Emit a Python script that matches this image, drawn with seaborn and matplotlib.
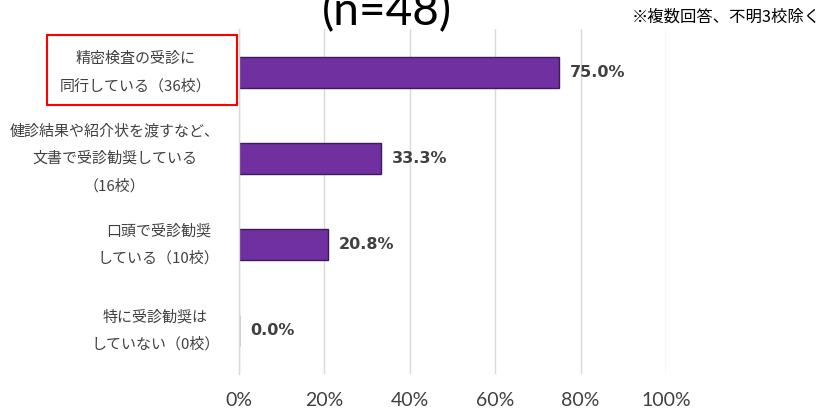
import matplotlib
matplotlib.use("Agg")
import matplotlib.pyplot as plt
import seaborn as sns
import pandas as pd
from matplotlib.patches import Rectangle
from matplotlib.transforms import ScaledTranslation

categories = [
    "精密検査の受診に\n同行している（36校）",
    "健診結果や紹介状を渡すなど、\n文書で受診勧奨している\n（16校）",
    "口頭で受診勧奨\nしている（10校）",
    "特に受診勧奨は\nしていない（0校）",
]
values = [75.0, 33.3, 20.8, 0.0]
value_labels = ["75.0%", "33.3%", "20.8%", "0.0%"]
xticks = [0, 20, 40, 60, 80, 100]
xtick_labels = ["0%", "20%", "40%", "60%", "80%", "100%"]
title = "(n=48)"
note = "※複数回答、不明3校除く"

sns.set_theme(style="white")
plt.rcParams["font.family"] = ["Noto Sans CJK JP", "DejaVu Sans"]

df = pd.DataFrame({"cat": categories, "val": values})

fig = plt.figure(figsize=(8.22, 4.11), dpi=100)
ax = fig.add_axes([239 / 822, 1 - 374 / 411, (666 - 239) / 822, 345 / 411])

sns.barplot(data=df, x="val", y="cat", orient="h", color="#7030A0",
            width=0.36, edgecolor="#3d1a5a", linewidth=1.0, saturation=1, ax=ax)

ax.set_xlim(0, 100)
ax.set_xticks(xticks)
ax.set_xticklabels(xtick_labels, family=["Lato", "DejaVu Sans"], fontsize=14, color="#404040")
ax.grid(axis="x", color="#d9d9d9", linewidth=1)
ax.set_axisbelow(True)
for s in ["top", "right", "bottom"]:
    ax.spines[s].set_visible(False)
ax.spines["left"].set_color("#d9d9d9")
ax.spines["left"].set_linewidth(1)
ax.tick_params(axis="x", length=0, pad=13)
ax.tick_params(axis="y", length=0, pad=14)
ax.set_xlabel("")
ax.set_ylabel("")

for i, tick in enumerate(ax.yaxis.get_major_ticks()):
    lab = tick.label1
    lab.set_multialignment("center")
    lab.set_linespacing(2.15)
    lab.set_fontsize(10.8)
    lab.set_color("#404040")
    dx = -8 if i == 0 else 0
    lab.set_transform(lab.get_transform() +
                      ScaledTranslation(dx / 100, 8 / 100, fig.dpi_scale_trans))

ax.bar_label(ax.containers[0], labels=value_labels, padding=8,
             fontsize=11.5, fontweight="bold", color="#404040",
             family=["DejaVu Sans"])

fig.text(387 / 822, 1 - 12 / 411, title, ha="center", va="center",
         fontsize=33, family=["Lato", "DejaVu Sans"], color="#000000")
fig.text(821 / 822, 1 - 17 / 411, note, ha="right", va="center",
         fontsize=11.8, color="#000000")

fig.patches.append(Rectangle((47 / 822, 1 - 105 / 411), 190 / 822, 70 / 411,
                             transform=fig.transFigure, fill=False,
                             edgecolor="#ff0000", linewidth=1.5))

fig.savefig("out.png", dpi=100, facecolor="white")
